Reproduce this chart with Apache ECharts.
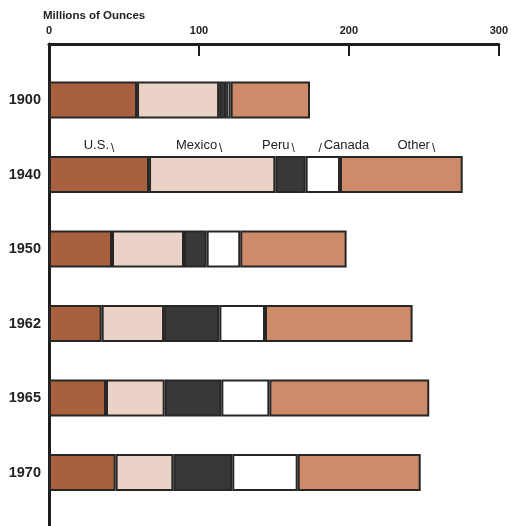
<!DOCTYPE html>
<html>
<head>
<meta charset="utf-8">
<script src="https://cdn.jsdelivr.net/npm/echarts@6/dist/echarts.min.js"></script>
<style>
  html, body { margin: 0; padding: 0; background: #ffffff; }
  #chart { width: 511px; height: 526px; }
</style>
</head>
<body>
<div id="chart"></div>
<script>
// ---- Data (millions of ounces of silver) ----
var years = ['1900', '1940', '1950', '1962', '1965', '1970'];
var seriesNames = ['U.S.', 'Mexico', 'Peru', 'Canada', 'Other'];
var usValues     = [58.7, 66.7, 42.0, 35.1, 38.0, 44.4];
var mexicoValues = [54.7, 84.2, 48.0, 41.6, 39.1, 38.5];
var peruValues   = [4.7, 20.2, 15.1, 36.9, 37.8, 39.3];
var canadaValues = [3.0, 22.9, 22.4, 30.4, 32.0, 43.6];
var otherValues  = [52.9, 81.8, 70.9, 98.4, 106.6, 82.0];
var xTicks = [0, 100, 200, 300];
var annotationTexts = ['U.S.', 'Mexico', 'Peru', 'Canada', 'Other'];
var annotatedYear = '1940';

// ---- Styles ----
var colors = ['#a9603e', '#ebd2c6', '#383838', '#ffffff', '#cd8b69'];
var labelOffsets = [[0, 3], [-13, 3], [-12, 3], [21, 3], [15, 3]];
var slashBefore = [false, false, false, true, false];
var ink = '#1e1e1e';

var valueLists = [usValues, mexicoValues, peruValues, canadaValues, otherValues];
var annIdx = years.indexOf(annotatedYear);

var series = seriesNames.map(function (name, s) {
  var txt = slashBefore[s]
    ? '{s|/}{t|' + annotationTexts[s] + '}'
    : '{t|' + annotationTexts[s] + '}{s|\\}';
  return {
    name: name,
    type: 'bar',
    stack: 'total',
    xAxisIndex: 1,
    yAxisIndex: 1,
    barWidth: 37,
    itemStyle: { color: colors[s], borderColor: '#262626', borderWidth: 2 },
    data: valueLists[s].map(function (v, i) {
      if (i === annIdx) {
        return {
          value: v,
          label: {
            show: true,
            position: 'top',
            distance: 4,
            offset: labelOffsets[s],
            formatter: txt,
            rich: {
              t: { fontFamily: 'Liberation Sans, Arial, sans-serif', fontSize: 13, color: '#222', padding: [0, 1, 0, 1] },
              s: { fontFamily: 'Liberation Sans, Arial, sans-serif', fontSize: 12, color: '#222', padding: [7, 1, 0, 1] }
            }
          }
        };
      }
      return v;
    })
  };
});

var chart = echarts.init(document.getElementById('chart'), null, { renderer: 'canvas' });
chart.setOption({
  animation: false,
  backgroundColor: '#ffffff',
  title: {
    text: 'Millions of Ounces',
    left: 43,
    top: 10,
    padding: 0,
    textStyle: { fontFamily: 'Liberation Sans, Arial, sans-serif', fontSize: 11.5, fontWeight: 'bold', color: '#222' }
  },
  grid: [
    { left: 49, right: 12, top: 44, bottom: 0 },
    { left: 49, right: 12, top: 62.75, height: 447 }
  ],
  xAxis: [
    {
      gridIndex: 0,
      type: 'value',
      position: 'top',
      min: xTicks[0],
      max: xTicks[xTicks.length - 1],
      interval: xTicks[1] - xTicks[0],
      axisLine: { show: true, onZero: false, lineStyle: { color: ink, width: 3 } },
      axisTick: { show: true, inside: true, length: 12, lineStyle: { color: ink, width: 2 } },
      axisLabel: {
        margin: 8,
        fontFamily: 'Liberation Sans, Arial, sans-serif',
        fontSize: 11,
        fontWeight: 'bold',
        color: '#222'
      },
      splitLine: { show: false }
    },
    {
      gridIndex: 1,
      type: 'value',
      min: xTicks[0],
      max: xTicks[xTicks.length - 1],
      show: false
    }
  ],
  yAxis: [
    {
      gridIndex: 0,
      type: 'value',
      axisLine: { show: true, onZero: false, lineStyle: { color: ink, width: 3 } },
      axisTick: { show: false },
      axisLabel: { show: false },
      splitLine: { show: false }
    },
    {
      gridIndex: 1,
      type: 'category',
      inverse: true,
      data: years,
      axisLine: { show: false },
      axisTick: { show: false },
      axisLabel: {
        margin: 8,
        fontFamily: 'Liberation Sans, Arial, sans-serif',
        fontSize: 14.5,
        fontWeight: 'bold',
        color: '#222'
      }
    }
  ],
  series: series
});
</script>
</body>
</html>
